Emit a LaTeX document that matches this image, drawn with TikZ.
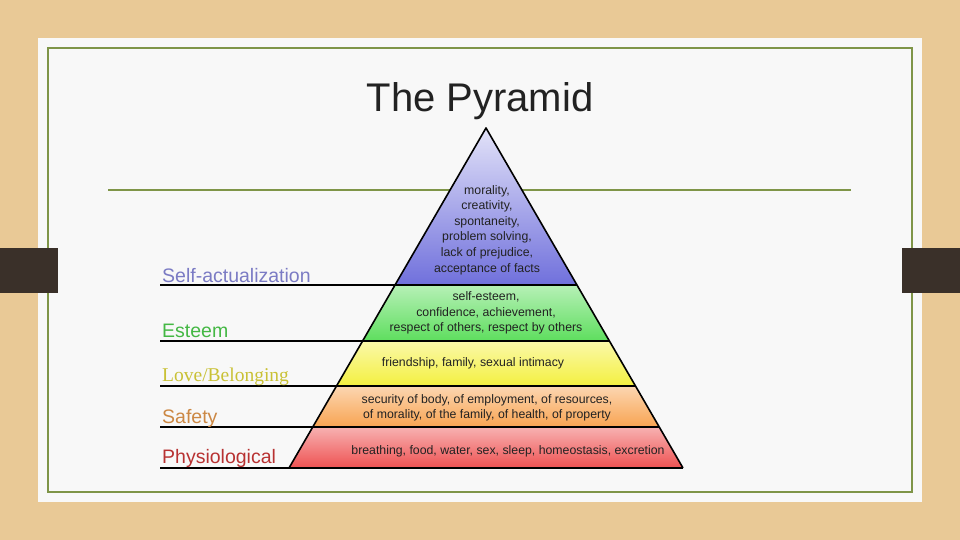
\documentclass[tikz,border=0pt]{standalone}
\usepackage{fontspec}
\setmainfont{Liberation Sans}
\newfontfamily\serifface{Liberation Serif}
\usetikzlibrary{calc}
\definecolor{wood}{HTML}{E9C996}
\definecolor{card}{HTML}{F8F8F8}
\definecolor{olive}{HTML}{7F9548}
\definecolor{tab}{HTML}{3A3029}
\definecolor{ink}{HTML}{222222}
\definecolor{selfcol}{HTML}{7B7BC4}
\definecolor{esteemcol}{HTML}{44B844}
\definecolor{lovecol}{HTML}{C9C135}
\definecolor{safetycol}{HTML}{CC8844}
\definecolor{physiocol}{HTML}{B83232}
\definecolor{selffill}{HTML}{7070DC}
\definecolor{esteemfill}{HTML}{5EDE5E}
\definecolor{lovefill}{HTML}{F4F040}
\definecolor{safetyfill}{HTML}{F8A452}
\definecolor{physiofill}{HTML}{EE5252}

\begin{document}
\begin{tikzpicture}[x=1pt,y=-1pt,
  levellabel/.style={anchor=base west,inner sep=0pt,font=\fontsize{19.5}{22}\selectfont},
  needs/.style={align=center,text=ink,font=\fontsize{12.3}{15.6}\selectfont}]
  \useasboundingbox (0,0) rectangle (960,540);
  \fill[wood] (0,0) rectangle (960,540);
  \fill[card] (38,38) rectangle (922,502);
  \draw[olive,line width=1.5pt] (48,48) rectangle (912,492);
  \fill[tab] (0,248) rectangle (58,293);
  \fill[tab] (902,248) rectangle (960,293);
  \node[anchor=base,text=ink,font=\fontsize{40}{48}\selectfont] (title) at (480,112) {The Pyramid};
  \draw[olive,line width=1.5pt] (108,190)--(851,190);
  \coordinate (A) at (486,128);
  \foreach \i/\y in {1/285,2/341,3/386,4/427,5/468} {
    \coordinate (L\i) at ({486-0.5794*(\y-128)},\y);
    \coordinate (R\i) at ({486+0.5794*(\y-128)},\y);
    \coordinate (S\i) at (160,\y);
  }
  \shade[top color=selffill!20!white,bottom color=selffill] (A)--(R1)--(L1)--cycle;
  \foreach \a/\b/\c in {1/2/esteemfill,2/3/lovefill,3/4/safetyfill,4/5/physiofill}
    \shade[top color=\c!45!white,bottom color=\c] (L\a)--(R\a)--(R\b)--(L\b)--cycle;
  \foreach \i in {1,...,5} \draw[line width=1.6pt] (S\i)--(R\i);
  \draw[line width=1.6pt,line join=round] (L5)--(A)--(R5);
  \node[levellabel,text=selfcol]   (self)   at (162,282) {Self-actualization};
  \node[levellabel,text=esteemcol] (esteem) at (162,337) {Esteem};
  \node[levellabel,text=lovecol,font=\serifface\fontsize{19.5}{22}\selectfont] (love) at (162,381) {Love/Belonging};
  \node[levellabel,text=safetycol] (safety) at (162,423) {Safety};
  \node[levellabel,text=physiocol] (physio) at (162,463) {Physiological};
  \node[needs] (selfneeds) at (487,230) {morality,\\creativity,\\spontaneity,\\problem solving,\\lack of prejudice,\\acceptance of facts};
  \node[needs] (esteemneeds) at (486,313) {self-esteem,\\confidence, achievement,\\respect of others, respect by others};
  \node[needs] (loveneeds) at (473,363) {friendship, family, sexual intimacy};
  \node[needs] (safetyneeds) at (487,408) {security of body, of employment, of resources,\\of morality, of the family, of health, of property};
  \node[needs] (physioneeds) at (508,451) {breathing, food, water, sex, sleep, homeostasis, excretion};
\end{tikzpicture}
\end{document}
